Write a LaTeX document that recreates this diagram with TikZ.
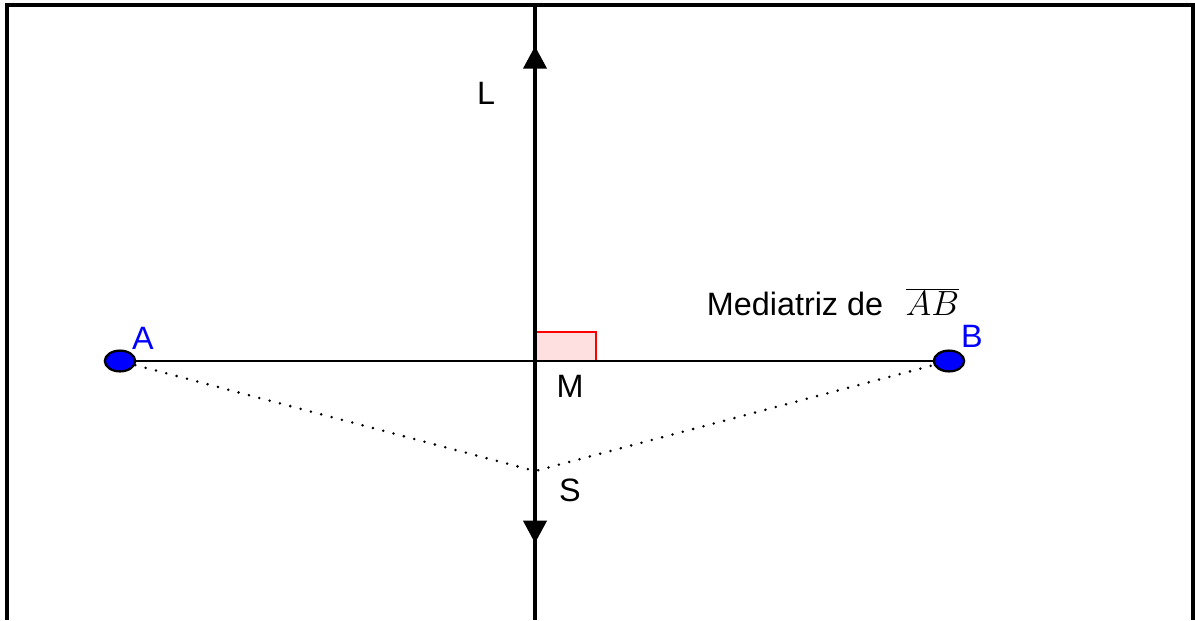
\documentclass[tikz,border=0pt]{standalone}
\usepackage{fontspec}
\setmainfont{Liberation Sans}
\usetikzlibrary{arrows.meta,shapes.geometric,decorations.markings}

\begin{document}
\begin{tikzpicture}[
    x=0.025cm, y=-0.025cm,
    font=\fontsize{23}{26}\selectfont,
    punto/.style={draw, ellipse, line width=1.6pt, fill=blue, minimum width=0.76cm, minimum height=0.52cm, inner sep=0pt},
    rotulo/.style={text=blue},
    recta/.style={line width=2.6pt, postaction={decorate}, decoration={markings,
        mark=at position 0.875 with {\arrow{Triangle[length=16pt, width=16.5pt]}},
        mark=at position 0.067 with {\arrowreversed{Triangle[length=16pt, width=16.5pt]}}}},
    punteada/.style={line width=2pt, line cap=round, dash pattern=on 0pt off 7.6pt}
]
\useasboundingbox (0,0) rectangle (1195,620);
% marco
\draw[line width=2.8pt] (7,620) -- (7,5) -- (1193,5) -- (1193,620);

% puntos
\node[punto] (A) at (120,361) {};
\node[punto] (B) at (949,361) {};
\node[rotulo] (lA) at (143,338) {A};
\node[rotulo] (lB) at (972,336) {B};
\coordinate (M) at (535,361);
\coordinate (S) at (535,471);
\coordinate (Ltop) at (535,5);
\coordinate (Lbot) at (535,620);

% angulo recto
\draw[red, fill=red!12, line width=1.4pt] (M) rectangle (596,332);

% segmento y mediatriz
\draw[line width=1.4pt] (A) -- (B);
\draw[punteada] (A) -- (S) -- (B);
\draw[recta] (Ltop) -- (Lbot);

\node (lL) at (486,93) {L};
\node (lM) at (570,386) {M};
\node (lS) at (570,490) {S};
\node[anchor=west] (med) at (702,302) {Mediatriz de\hspace{16pt}{\fontsize{37}{38}\selectfont$\overline{AB}$}};
\end{tikzpicture}
\end{document}
